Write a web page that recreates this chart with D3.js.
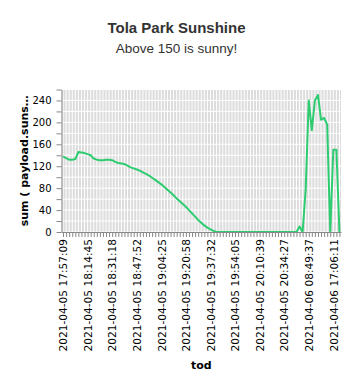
<!DOCTYPE html>
<html>
<head>
<meta charset="utf-8">
<script src="https://cdn.jsdelivr.net/npm/d3@7"></script>
<style>
	body { margin: 0; background: #fff; }
	svg, svg text { font-family: "DejaVu Sans", sans-serif; }
	.chart-title { font-family: "Liberation Sans", Arial, sans-serif; }
</style>
</head>
<body>
<svg id="line-chart"></svg>
<script>
/* data */
var tickLabels = [
	"2021-04-05 17:57:09", "2021-04-05 18:14:45", "2021-04-05 18:31:18",
	"2021-04-05 18:47:52", "2021-04-05 19:04:25", "2021-04-05 19:20:58",
	"2021-04-05 19:37:32", "2021-04-05 19:54:05", "2021-04-05 20:10:39",
	"2021-04-05 20:34:27", "2021-04-06 08:49:37", "2021-04-06 17:06:11"
];

// sum of payload.sunshine for each tod, in order
var sunshine = [
	138, 135, 132, 132, 133, 146, 145, 144, 142, 140,
	134, 132, 131, 131, 132, 132, 131, 128, 126, 125,
	124, 121, 118, 116, 114, 112, 109, 106, 103, 99,
	95, 91, 87, 82, 77, 72, 67, 61, 56, 51,
	46, 40, 34, 28, 22, 17, 12, 8, 5, 2,
	0, 0, 0, 0, 0, 0, 0, 0, 0, 0,
	0, 0, 0, 0, 0, 0, 0, 0, 0, 0,
	0, 0, 0, 0, 0, 0, 0, 10, 0, 77,
	240, 186, 240, 250, 205, 208, 196, 0, 150, 150,
	0
];

var yTickValues = [0, 20, 40, 60, 80, 100, 120, 140, 160, 180, 200, 220, 240, 260];

var title = "Tola Park Sunshine",
	subtitle = "Above 150 is sunny!",
	xLegend = "tod",
	yLegend = "sum ( payload.suns\u2026";

/* settings */
var width = 353,
	height = 389,
	margin = { top: 89.5, bottom: 157, left: 61.5, right: 12 },
	labelEvery = 8,
	fontFamily = "'DejaVu Sans', sans-serif";

var innerWidth = width - margin.left - margin.right;
var innerHeight = height - margin.top - margin.bottom;

var svg = d3.select("#line-chart")
	.attr("width", width)
	.attr("height", height);

/* titles */
svg.append("text")
	.attr("class", "chart-title")
	.attr("x", width / 2)
	.attr("y", 33)
	.attr("text-anchor", "middle")
	.style("font-size", "15px")
	.style("font-weight", "bold")
	.attr("fill", "#333")
	.text(title);

svg.append("text")
	.attr("class", "chart-title")
	.attr("x", width / 2)
	.attr("y", 52.5)
	.attr("text-anchor", "middle")
	.style("font-size", "13.5px")
	.attr("fill", "#333")
	.text(subtitle);

var g = svg.append("g")
	.attr("id", "lines")
	.attr("transform", "translate(" + margin.left + "," + margin.top + ")");

/* scales */
var xScale = d3.scalePoint()
	.domain(d3.range(sunshine.length))
	.range([0, innerWidth])
	.padding(0.5);

var yScale = d3.scaleLinear()
	.domain([0, 260])
	.range([innerHeight, 0]);

/* background and grid */
g.append("rect")
	.attr("width", innerWidth)
	.attr("height", innerHeight)
	.attr("fill", "#dcdcdc");

g.append("g").attr("class", "grid-x")
	.selectAll("line")
	.data(xScale.domain())
	.enter().append("line")
		.attr("x1", function(d) { return xScale(d); })
		.attr("x2", function(d) { return xScale(d); })
		.attr("y1", 0)
		.attr("y2", innerHeight)
		.attr("stroke", "#fff")
		.attr("stroke-width", 1);

g.append("g").attr("class", "grid-y")
	.selectAll("line")
	.data(yTickValues)
	.enter().append("line")
		.attr("x1", 0)
		.attr("x2", innerWidth)
		.attr("y1", function(d) { return yScale(d); })
		.attr("y2", function(d) { return yScale(d); })
		.attr("stroke", "#fff")
		.attr("stroke-width", 1);

/* line */
var line = d3.line()
	.x(function(d, i) { return xScale(i); })
	.y(function(d) { return yScale(d); });

g.append("path")
	.datum(sunshine)
	.attr("class", "chartline")
	.attr("fill", "none")
	.attr("stroke", "#2ecc71")
	.attr("stroke-width", 2)
	.attr("stroke-linejoin", "round")
	.attr("d", line);

/* x-axis */
var xAxis = d3.axisBottom(xScale)
	.tickSize(5)
	.tickSizeOuter(0)
	.tickFormat(function(i) { return i % labelEvery === 0 ? tickLabels[i / labelEvery] : ""; });

var xAxisG = g.append("g")
	.attr("class", "x-axis-line")
	.attr("transform", "translate(0," + innerHeight + ")")
	.call(xAxis)
	.attr("font-family", fontFamily)
	.attr("font-size", 10.6);

// drop the empty label nodes between the shown labels
xAxisG.selectAll("text")
	.filter(function() { return this.textContent === ""; })
	.remove();

xAxisG.selectAll("text")
	.attr("y", 0)
	.attr("x", -7)
	.attr("dy", "0.35em")
	.attr("transform", "rotate(-90)")
	.style("text-anchor", "end")
	.attr("fill", "#000");

xAxisG.selectAll("line").attr("stroke", "#888");
xAxisG.select(".domain").attr("stroke", "#888");

svg.append("text")
	.attr("class", "label")
	.attr("x", margin.left + innerWidth / 2)
	.attr("y", 369)
	.attr("text-anchor", "middle")
	.style("font-size", "11px")
	.style("font-weight", "bold")
	.text(xLegend);

/* y-axis */
var yAxis = d3.axisLeft(yScale)
	.tickValues(yTickValues)
	.tickSize(5)
	.tickSizeOuter(0)
	.tickPadding(5)
	.tickFormat(function(d) { return d % 40 === 0 ? d : ""; });

var yAxisG = g.append("g")
	.attr("class", "y-axis-line")
	.call(yAxis)
	.attr("font-family", fontFamily)
	.attr("font-size", 10);

yAxisG.selectAll("text")
	.filter(function() { return this.textContent === ""; })
	.remove();

yAxisG.selectAll("text").attr("fill", "#000");
yAxisG.selectAll("line").attr("stroke", "#888");
yAxisG.select(".domain").attr("stroke", "#888");

svg.append("text")
	.attr("class", "label")
	.attr("transform", "translate(28," + (margin.top + innerHeight / 2) + ") rotate(-90)")
	.attr("text-anchor", "middle")
	.style("font-size", "11px")
	.style("font-weight", "bold")
	.text(yLegend);
</script>
</body>
</html>
